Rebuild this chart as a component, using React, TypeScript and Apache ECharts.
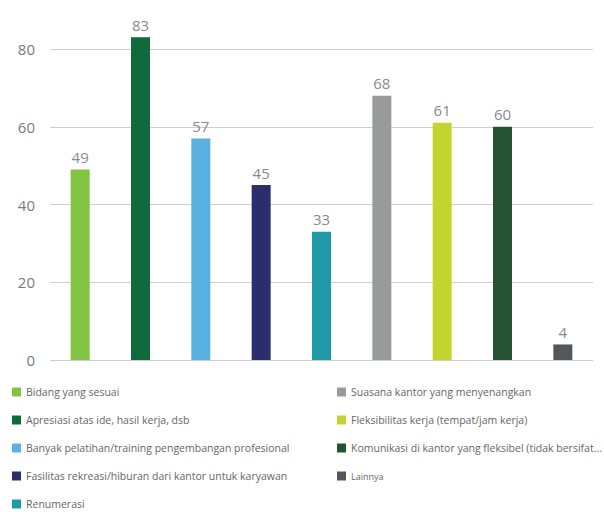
import React, { useEffect, useRef } from "react";
import * as echarts from "echarts";

const categories = [
  "Bidang yang sesuai",
  "Apresiasi atas ide, hasil kerja, dsb",
  "Banyak pelatihan/training pengembangan profesional",
  "Fasilitas rekreasi/hiburan dari kantor untuk karyawan",
  "Renumerasi",
  "Suasana kantor yang menyenangkan",
  "Fleksibilitas kerja (tempat/jam kerja)",
  "Komunikasi di kantor yang fleksibel (tidak bersifat...",
  "Lainnya",
];
const values = [49, 83, 57, 45, 33, 68, 61, 60, 4];
const colors = [
  "#82c341",
  "#0f6b3b",
  "#58b1e0",
  "#2a2f6b",
  "#1d9aa6",
  "#999a9b",
  "#c3d42f",
  "#265334",
  "#55565b",
];
const yTicks = { min: 0, max: 80, interval: 20 };

export default function App() {
  const ref = useRef<HTMLDivElement>(null);
  useEffect(() => {
    document.body.style.margin = "0";
    if (!ref.current) return;
    const chart = echarts.init(ref.current, undefined, { renderer: "svg" });
    const series = categories.map((name, i) => ({
      name,
      type: "bar",
      stack: "all",
      barWidth: 19,
      clip: false,
      itemStyle: { color: colors[i] },
      label: {
        show: true,
        position: "top",
        distance: 5,
        color: "#8a8a8a",
        fontSize: 15,
        fontFamily: "Open Sans",
      },
      data: values.map((v, j) => (j === i ? v : "-")),
    }));
    const legendText = {
      color: "#666",
      fontSize: 10.5,
      fontFamily: "Open Sans",
      lineHeight: 14,
    };
    const legendBase = {
      orient: "vertical",
      top: 385,
      height: 130,
      padding: 0,
      itemWidth: 9,
      itemHeight: 9,
      itemGap: 14,
      icon: "rect",
      selectedMode: false,
      textStyle: legendText,
    };
    chart.setOption({
      animation: false,
      grid: { left: 50, right: 11, top: 49, bottom: 154 },
      xAxis: {
        type: "category",
        data: categories,
        axisLabel: { show: false },
        axisTick: { show: false },
        axisLine: { show: false },
      },
      yAxis: {
        type: "value",
        min: yTicks.min,
        max: yTicks.max,
        interval: yTicks.interval,
        axisLabel: {
          color: "#7a7a7a",
          fontSize: 15,
          fontFamily: "Open Sans",
          margin: 15,
        },
        axisLine: { show: false },
        axisTick: { show: false },
        splitLine: { lineStyle: { color: "#cfcfcf", width: 1 } },
      },
      legend: [
        {
          ...legendBase,
          left: 12,
          data: categories.slice(0, 5),
        },
        {
          ...legendBase,
          left: 337,
          data: categories.slice(5).map((n, k) =>
            k === 3
              ? { name: n, textStyle: { ...legendText, fontSize: 9 } }
              : n
          ),
        },
      ],
      series,
    });
    return () => chart.dispose();
  }, []);
  return <div ref={ref} style={{ width: 604, height: 514 }} />;
}
